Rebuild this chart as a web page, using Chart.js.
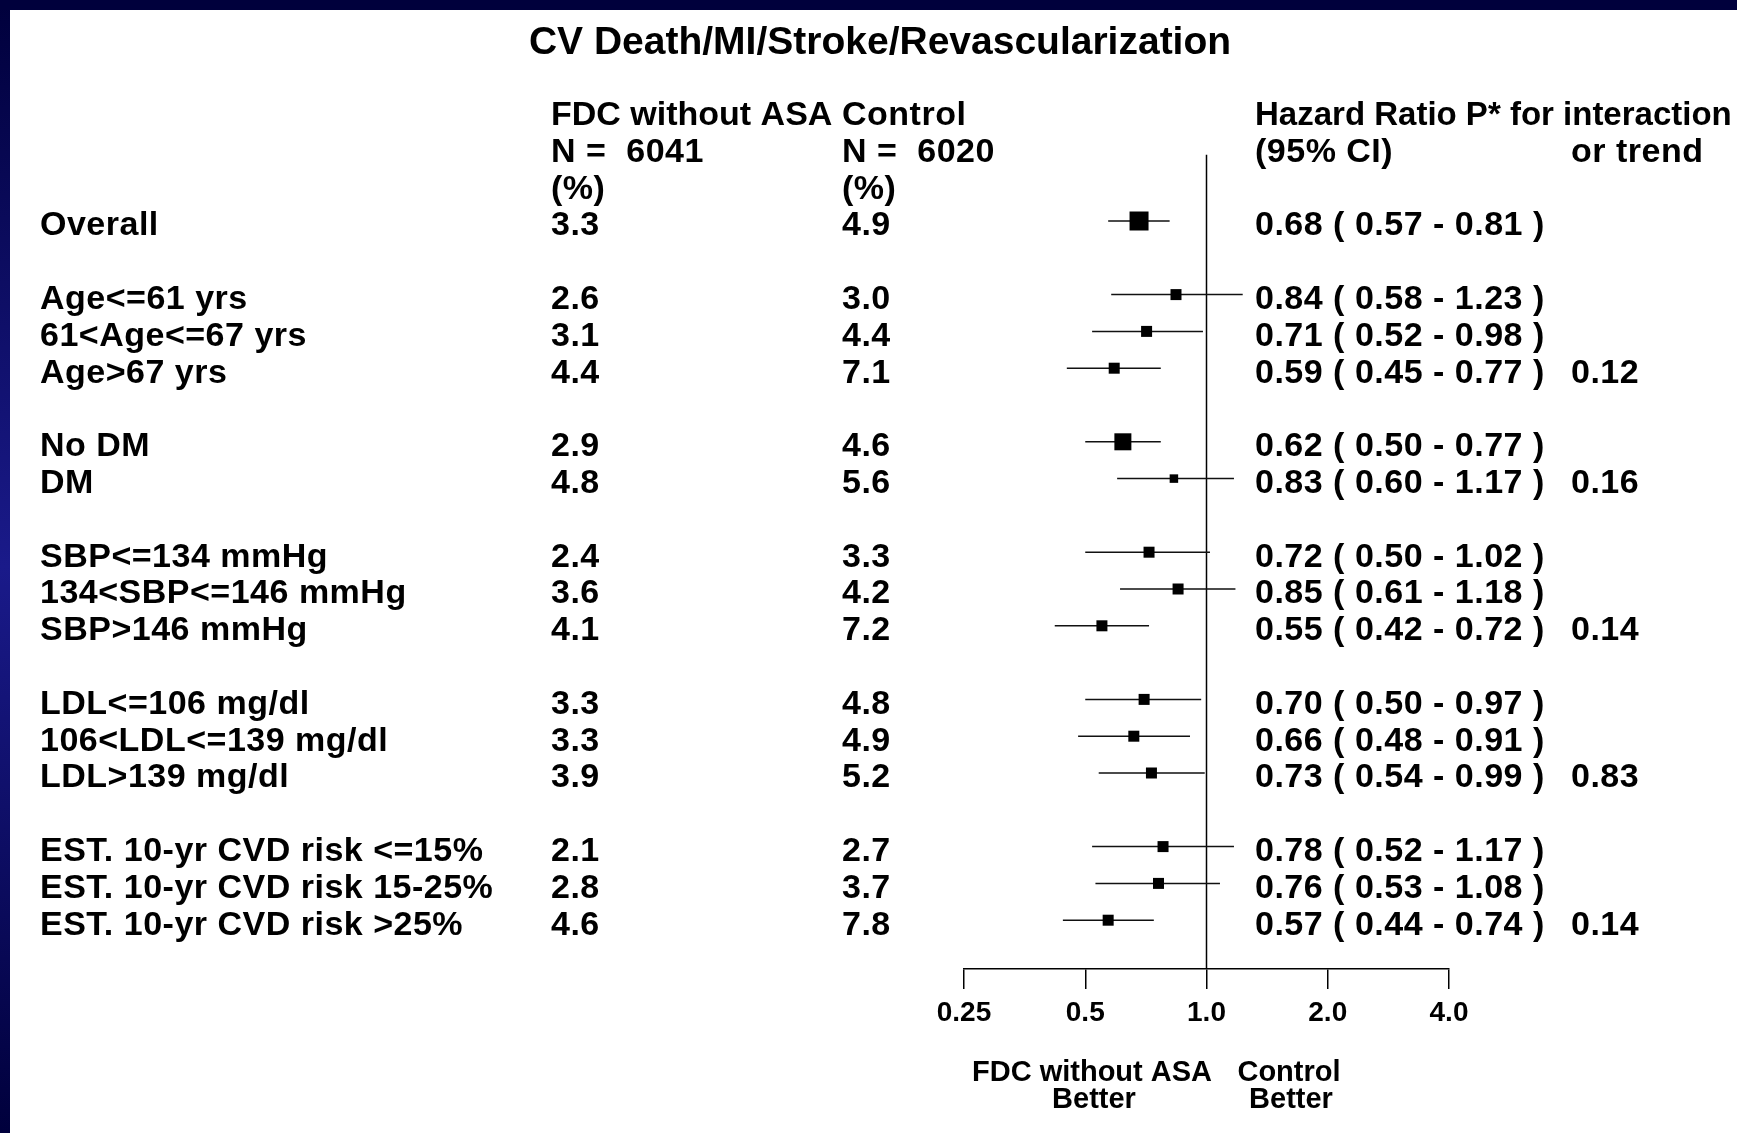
<!DOCTYPE html>
<html>
<head>
<meta charset="utf-8">
<script src="https://cdn.jsdelivr.net/npm/chart.js@4.4.1/dist/chart.umd.min.js"></script>
<style>
  html, body { margin: 0; padding: 0; background: #fff; }
  #wrap { width: 1737px; height: 1133px; }
</style>
</head>
<body>
<div id="wrap"><canvas id="forest" width="1737" height="1133"></canvas></div>
<script>
// subgroups top to bottom, groups split by one blank row
const subgroups = [
  'Overall',
  'Age<=61 yrs', '61<Age<=67 yrs', 'Age>67 yrs',
  'No DM', 'DM',
  'SBP<=134 mmHg', '134<SBP<=146 mmHg', 'SBP>146 mmHg',
  'LDL<=106 mg/dl', '106<LDL<=139 mg/dl', 'LDL>139 mg/dl',
  'EST. 10-yr CVD risk <=15%', 'EST. 10-yr CVD risk 15-25%', 'EST. 10-yr CVD risk >25%'
];
const groupSizes = [1, 3, 2, 3, 3, 3];
const fdcPct = [3.3, 2.6, 3.1, 4.4, 2.9, 4.8, 2.4, 3.6, 4.1, 3.3, 3.3, 3.9, 2.1, 2.8, 4.6];
const controlPct = [4.9, 3.0, 4.4, 7.1, 4.6, 5.6, 3.3, 4.2, 7.2, 4.8, 4.9, 5.2, 2.7, 3.7, 7.8];
const hazardRatio = [0.68, 0.84, 0.71, 0.59, 0.62, 0.83, 0.72, 0.85, 0.55, 0.70, 0.66, 0.73, 0.78, 0.76, 0.57];
const ciLow = [0.57, 0.58, 0.52, 0.45, 0.50, 0.60, 0.50, 0.61, 0.42, 0.50, 0.48, 0.54, 0.52, 0.53, 0.44];
const ciHigh = [0.81, 1.23, 0.98, 0.77, 0.77, 1.17, 1.02, 1.18, 0.72, 0.97, 0.91, 0.99, 1.17, 1.08, 0.74];
const pInteraction = ['', '', '', '0.12', '', '0.16', '', '', '0.14', '', '', '0.83', '', '', '0.14'];
const nFdc = 6041;
const nControl = 6020;
const xTicks = [0.25, 0.5, 1, 2, 4];
const xTickLabels = ['0.25', '0.5', '1.0', '2.0', '4.0'];

// box side in px (bigger box = more weight)
const boxSide = [19, 11, 11, 11, 17, 8.5, 11, 11, 11, 11, 11, 11, 11, 11, 11];

// layout
const ROW_H = 36.8, ROW0 = 221, AREA_TOP = 100, AREA_BOTTOM = 969;
const PLOT_LEFT = 964, PLOT_RIGHT = 1449;
const TEXT_DY = 5;
const yMin = (AREA_TOP - ROW0) / ROW_H;
const yMax = (AREA_BOTTOM - ROW0) / ROW_H;
const REF_TOP_ROW = -1.8;
const FONT = '"Liberation Sans", Arial, sans-serif';

const rowOf = [];
let slot = 0;
groupSizes.forEach(n => {
  for (let k = 0; k < n; k++) rowOf.push(slot++);
  slot++;
});

const whiskers = [];
rowOf.forEach((r, i) => {
  whiskers.push({ x: ciLow[i], y: r }, { x: ciHigh[i], y: r }, { x: null, y: null });
});
const boxes = rowOf.map((r, i) => ({ x: hazardRatio[i], y: r }));

const frame = {
  id: 'frame',
  beforeDraw(chart) {
    const ctx = chart.ctx;
    ctx.save();
    ctx.fillStyle = '#fff';
    ctx.fillRect(0, 0, chart.width, chart.height);
    const g = ctx.createLinearGradient(0, 0, 0, chart.height);
    g.addColorStop(0, '#00003c');
    g.addColorStop(0.5, '#1a1a8a');
    g.addColorStop(1, '#00003c');
    ctx.fillStyle = g;
    ctx.fillRect(0, 0, 10, chart.height);
    ctx.fillStyle = '#00003c';
    ctx.fillRect(0, 0, chart.width, 10);
    ctx.restore();
  }
};

const table = {
  id: 'table',
  afterDraw(chart) {
    const ctx = chart.ctx;
    const ys = chart.scales.y;
    const rowY = r => ys.getPixelForValue(r) + TEXT_DY;
    const cols = { label: 40, fdc: 551, ctrl: 842, hr: 1255, p: 1571 };
    ctx.save();
    ctx.fillStyle = '#000';
    ctx.textBaseline = 'middle';

    ctx.textAlign = 'center';
    ctx.font = 'bold 39px ' + FONT;
    ctx.fillText('CV Death/MI/Stroke/Revascularization', 880, 43);

    ctx.textAlign = 'left';
    ctx.font = 'bold 33px ' + FONT;
    ctx.fillText('Hazard Ratio P* for interaction', cols.hr, rowY(-3));
    ctx.font = 'bold 34px ' + FONT;
    ctx.fillText('FDC without ASA', cols.fdc, rowY(-3));
    ctx.letterSpacing = '0.5px';
    ctx.fillText('Control', cols.ctrl, rowY(-3));
    ctx.fillText('N =  ' + nFdc, cols.fdc, rowY(-2));
    ctx.fillText('N =  ' + nControl, cols.ctrl, rowY(-2));
    ctx.fillText('(95% CI)', cols.hr, rowY(-2));
    ctx.fillText('or trend', cols.p, rowY(-2));
    ctx.fillText('(%)', cols.fdc, rowY(-1));
    ctx.fillText('(%)', cols.ctrl, rowY(-1));

    rowOf.forEach((r, i) => {
      const y = rowY(r);
      ctx.fillText(subgroups[i], cols.label, y);
      ctx.fillText(fdcPct[i].toFixed(1), cols.fdc, y);
      ctx.fillText(controlPct[i].toFixed(1), cols.ctrl, y);
      ctx.fillText(hazardRatio[i].toFixed(2) + ' ( ' + ciLow[i].toFixed(2) + ' - ' + ciHigh[i].toFixed(2) + ' )', cols.hr, y);
      if (pInteraction[i]) ctx.fillText(pInteraction[i], cols.p, y);
    });

    // favours labels under the axis
    ctx.letterSpacing = '0px';
    ctx.textAlign = 'center';
    ctx.font = 'bold 29px ' + FONT;
    ctx.fillText('FDC without ASA', 1092, 1073);
    ctx.fillText('Better', 1094, 1100);
    ctx.fillText('Control', 1289, 1073);
    ctx.fillText('Better', 1291, 1100);
    ctx.restore();
  }
};

new Chart(document.getElementById('forest'), {
  type: 'scatter',
  data: {
    datasets: [
      {
        data: boxes,
        pointStyle: 'rect',
        pointRadius: boxSide.map(s => s / Math.SQRT2),
        pointBackgroundColor: '#000',
        pointBorderWidth: 0,
        order: 0
      },
      {
        data: whiskers,
        showLine: true,
        spanGaps: false,
        borderColor: '#111',
        borderWidth: 1.5,
        pointRadius: 0,
        order: 1
      },
      {
        data: [{ x: 1, y: REF_TOP_ROW }, { x: 1, y: yMax }],
        showLine: true,
        borderColor: '#000',
        borderWidth: 1.5,
        pointRadius: 0,
        order: 2
      }
    ]
  },
  options: {
    responsive: false,
    devicePixelRatio: 1,
    animation: false,
    layout: { padding: { left: PLOT_LEFT, right: 1737 - PLOT_RIGHT, top: AREA_TOP, bottom: 0 } },
    plugins: { legend: { display: false }, tooltip: { enabled: false } },
    scales: {
      x: {
        type: 'logarithmic',
        min: 0.25,
        max: 4,
        afterBuildTicks: s => { s.ticks = xTicks.map(v => ({ value: v })); },
        afterFit: s => { s.height = 1133 - AREA_BOTTOM; },
        ticks: {
          autoSkip: false,
          maxRotation: 0,
          padding: 7,
          color: '#000',
          font: { family: FONT, size: 28, weight: 'bold' },
          callback: (v, i) => xTickLabels[i]
        },
        grid: { display: true, drawOnChartArea: false, drawTicks: true, tickLength: 20, color: '#000', lineWidth: 1.5 },
        border: { display: true, color: '#000', width: 1.5 }
      },
      y: {
        type: 'linear',
        reverse: true,
        min: yMin,
        max: yMax,
        display: false
      }
    }
  },
  plugins: [frame, table]
});
</script>
</body>
</html>
